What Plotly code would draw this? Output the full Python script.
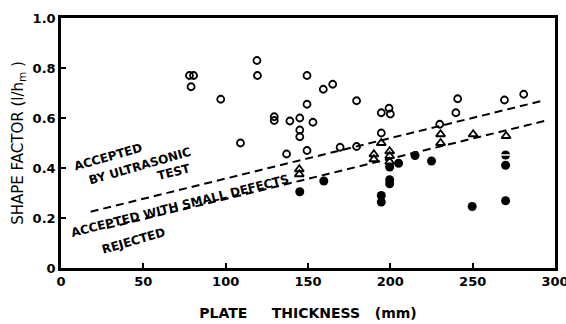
import plotly.graph_objects as go

# Accepted by ultrasonic test (open circles)
acc_x = [78, 80.5, 79, 97, 109, 119, 119.3, 129.5, 129.5, 137, 139, 145, 145, 145,
         149.4, 149.4, 149.4, 153, 159.3, 165, 169.5, 179.5, 179.5, 194.5, 194.5,
         199.2, 200, 230, 239.8, 240.9, 269.3, 281]
acc_y = [0.77, 0.77, 0.725, 0.675, 0.50, 0.83, 0.77, 0.605, 0.59, 0.456, 0.588, 0.60, 0.552, 0.525,
         0.77, 0.655, 0.47, 0.583, 0.715, 0.735, 0.483, 0.669, 0.486, 0.621, 0.54,
         0.639, 0.616, 0.575, 0.621, 0.677, 0.672, 0.695]

# Accepted with small defects (open triangles)
small_x = [144.7, 144.7, 190, 190, 194.5, 199.6, 199.6, 199.6, 230.5, 230.5, 250.3, 270.3]
small_y = [0.395, 0.375, 0.455, 0.435, 0.50, 0.467, 0.448, 0.425, 0.535, 0.500, 0.535, 0.528]

# Rejected (filled circles)
rej_x = [145, 159.6, 194.5, 194.5, 199.6, 199.6, 199.6, 205, 215, 225, 249.7, 270, 270, 270]
rej_y = [0.305, 0.348, 0.29, 0.264, 0.404, 0.353, 0.337, 0.419, 0.45, 0.428, 0.246, 0.452, 0.411, 0.269]

# Barred rejected point
bar_x = [270]
bar_y = [0.452]

# Boundary lines
upper_x = [18, 293]
upper_y = [0.225, 0.670]
lower_x = [28, 296]
lower_y = [0.160, 0.592]

x_ticks = [0, 50, 100, 150, 200, 250, 300]
y_ticks = [0, 0.2, 0.4, 0.6, 0.8, 1.0]
y_tick_text = ["0", "0.2", "0.4", "0.6", "0.8", "1.0"]

FONT = "DejaVu Sans"

fig = go.Figure()
for lx, ly in [(upper_x, upper_y), (lower_x, lower_y)]:
    fig.add_trace(go.Scatter(x=lx, y=ly, mode="lines",
                             line=dict(color="black", width=2, dash="8px,5px"),
                             hoverinfo="skip"))
fig.add_trace(go.Scatter(x=acc_x, y=acc_y, mode="markers",
                         marker=dict(symbol="circle-open", size=7, color="black",
                                     line=dict(width=1.8, color="black"))))
fig.add_trace(go.Scatter(x=small_x, y=small_y, mode="markers",
                         marker=dict(symbol="triangle-up-open", size=8, color="black",
                                     line=dict(width=1.8, color="black"))))
fig.add_trace(go.Scatter(x=rej_x, y=rej_y, mode="markers",
                         marker=dict(symbol="circle", size=9, color="black",
                                     line=dict(width=0))))
fig.add_trace(go.Scatter(x=bar_x, y=bar_y, mode="markers",
                         marker=dict(symbol="line-ew", size=8, color="white",
                                     line=dict(width=1.5, color="white"))))

ann_font = dict(family=FONT, size=12, color="black", weight="bold")
labels = [
    ("ACCEPTED", 28.7, 0.444, -16),
    ("BY ULTRASONIC", 48.2, 0.408, -16),
    ("TEST", 68.9, 0.384, -14),
    ("ACCEPTED WITH SMALL DEFECTS", 72, 0.247, -14),
    ("REJECTED", 43.9, 0.108, -16),
]
for txt, ax_, ay_, ang in labels:
    fig.add_annotation(x=ax_, y=ay_, xref="x", yref="y", text=txt, showarrow=False,
                       textangle=ang, font=ann_font, xanchor="center", yanchor="middle")

fig.update_layout(
    width=566, height=324,
    margin=dict(l=61, r=11, t=18, b=56),
    paper_bgcolor="white", plot_bgcolor="white",
    showlegend=False,
    font=dict(family=FONT, color="black"),
)
fig.update_xaxes(
    range=[0, 300], tickvals=x_ticks, ticktext=[str(v) for v in x_ticks],
    ticks="inside", ticklen=5, tickwidth=2, tickcolor="black",
    showline=True, linewidth=2.5, linecolor="black", mirror=True,
    showgrid=False, zeroline=False, automargin=False, ticklabeloverflow="allow",
    tickfont=dict(family=FONT, size=13, color="black", weight="bold"),
    title=dict(text="PLATE&nbsp;&nbsp;&nbsp;&nbsp;&nbsp;THICKNESS&nbsp;&nbsp;&nbsp;(mm)", standoff=20,
               font=dict(family=FONT, size=14, color="black", weight="bold")),
)
fig.update_yaxes(
    range=[0, 1.0], tickvals=y_ticks, ticktext=y_tick_text,
    ticks="inside", ticklen=5, tickwidth=2, tickcolor="black",
    showline=True, linewidth=2.5, linecolor="black", mirror=True,
    showgrid=False, zeroline=False, automargin=False, ticklabeloverflow="allow",
    tickfont=dict(family=FONT, size=13, color="black", weight="bold"),
    title=dict(text="SHAPE FACTOR (l/h<sub>m</sub> )", standoff=6,
               font=dict(family=FONT, size=15, color="black")),
)

fig.write_html(
    "out.html",
    config={"displayModeBar": False},
    post_script="document.body.style.margin='0';document.body.style.overflow='hidden';",
)
